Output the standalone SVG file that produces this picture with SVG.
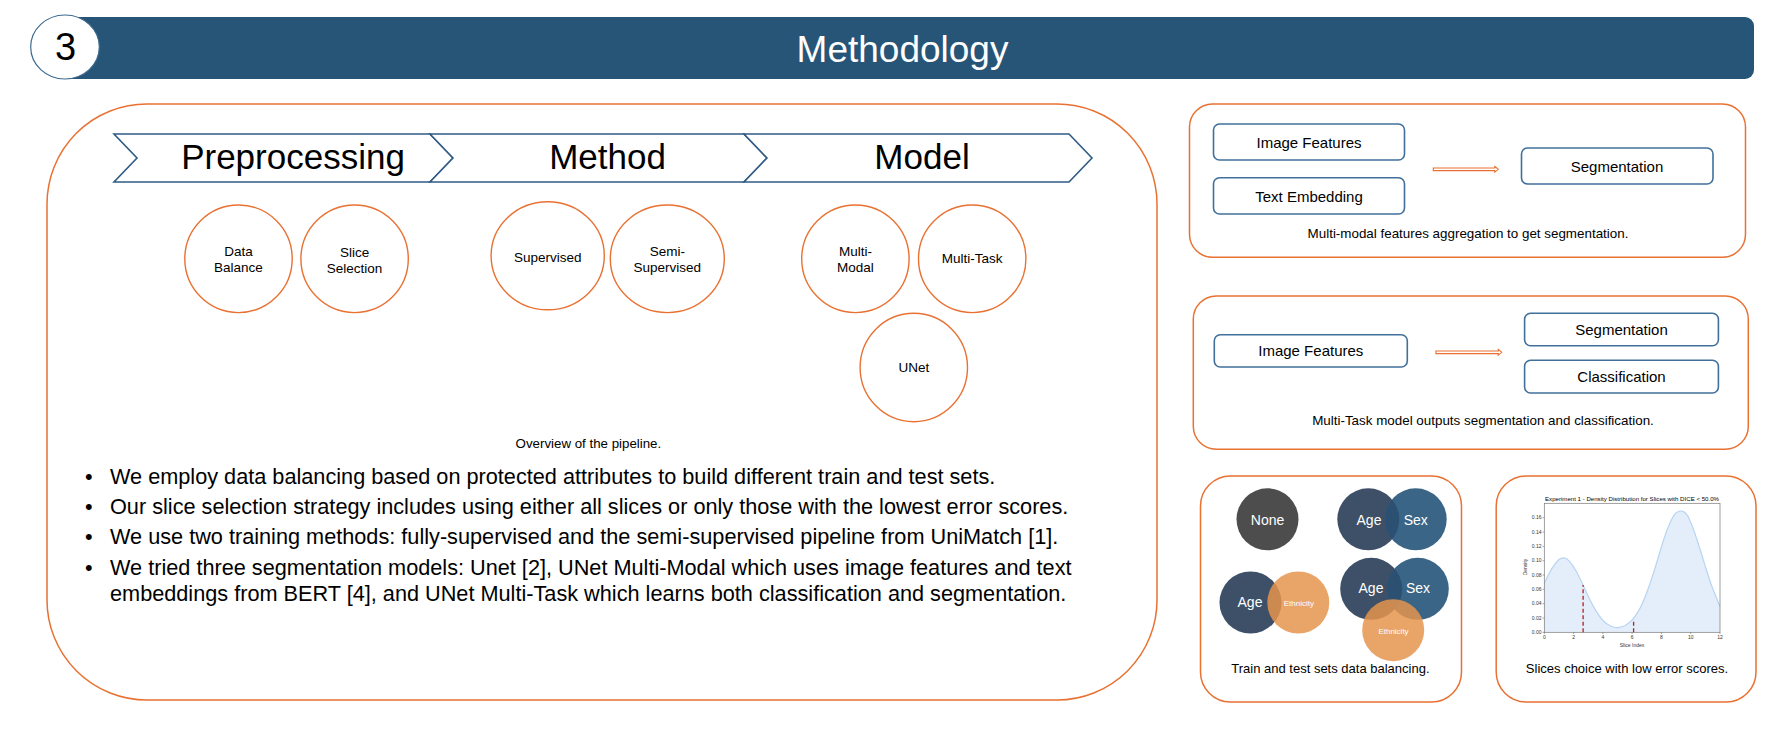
<svg xmlns="http://www.w3.org/2000/svg" width="1777" height="737" viewBox="0 0 1777 737">
<style>
text{font-family:"Liberation Sans",Arial,sans-serif;fill:#000}
.panel{fill:#fff;stroke:#e97132;stroke-width:1.5}
.chev{fill:#fff;stroke:#2f5b85;stroke-width:1.6}
.chevt{font-size:35px;text-anchor:middle}
.pc{fill:#fff;stroke:#e97132;stroke-width:1.4}
.pct{font-size:13.5px;text-anchor:middle}
.box{fill:#fff;stroke:#41709c;stroke-width:1.6}
.boxt{font-size:15px;text-anchor:middle}
.cap{font-size:13.4px;text-anchor:middle}
.bul{font-size:21.7px}
.arr{fill:#fff;stroke:#e97132;stroke-width:1.1}
.vw{fill:#fff;text-anchor:middle;font-size:14px}
.eth{fill:#fff;text-anchor:middle;font-size:8px}
.tick{font-size:5px;fill:#333}
</style>
<defs>
<clipPath id="clipAgeTR"><circle cx="1368.3" cy="519.3" r="31"/></clipPath>
<clipPath id="clipAgeBR"><circle cx="1371.2" cy="588.8" r="31"/></clipPath>
</defs>

<!-- Header -->
<g id="header">
<rect x="60" y="17" width="1694" height="62" rx="9" fill="#265578"/>
<ellipse cx="65" cy="47" rx="34.3" ry="32" fill="#fff" stroke="#3d6a8f" stroke-width="1.2"/>
<text x="65.5" y="60" font-size="38" text-anchor="middle">3</text>
<text x="902.5" y="61.7" font-size="37" text-anchor="middle" style="fill:#fff">Methodology</text>
</g>

<!-- Main panel -->
<g id="main-panel">
<rect class="panel" x="47" y="104" width="1110" height="596" rx="100"/>
</g>

<g id="chevron-preprocessing">
<path class="chev" d="M114,134 L430,134 L453,158 L430,182 L114,182 L137,158 Z"/>
<text class="chevt" x="293" y="168.5">Preprocessing</text>
</g>
<g id="chevron-method">
<path class="chev" d="M430,134 L744,134 L767,158 L744,182 L430,182 L453,158 Z"/>
<text class="chevt" x="607.5" y="168.5">Method</text>
</g>
<g id="chevron-model">
<path class="chev" d="M744,134 L1069,134 L1092,158 L1069,182 L744,182 L767,158 Z"/>
<text class="chevt" x="922" y="168.5">Model</text>
</g>

<g id="c-data-balance">
<ellipse class="pc" cx="238.5" cy="258.8" rx="53.7" ry="53.8"/>
<text class="pct" x="238.5" y="255.7">Data</text>
<text class="pct" x="238.5" y="271.7">Balance</text>
</g>
<g id="c-slice-selection">
<ellipse class="pc" cx="354.6" cy="258.8" rx="53.7" ry="53.8"/>
<text class="pct" x="354.6" y="256.7">Slice</text>
<text class="pct" x="354.6" y="272.7">Selection</text>
</g>
<g id="c-supervised">
<ellipse class="pc" cx="547.7" cy="255.8" rx="56.6" ry="54"/>
<text class="pct" x="547.7" y="261.7">Supervised</text>
</g>
<g id="c-semi-supervised">
<ellipse class="pc" cx="667.3" cy="258.8" rx="57" ry="53.8"/>
<text class="pct" x="667.3" y="255.7">Semi-</text>
<text class="pct" x="667.3" y="271.7">Supervised</text>
</g>
<g id="c-multi-modal">
<ellipse class="pc" cx="855.4" cy="258.8" rx="53.7" ry="53.8"/>
<text class="pct" x="855.4" y="255.7">Multi-</text>
<text class="pct" x="855.4" y="271.7">Modal</text>
</g>
<g id="c-multi-task">
<ellipse class="pc" cx="972.2" cy="258.8" rx="53.7" ry="53.8"/>
<text class="pct" x="972.2" y="263.3">Multi-Task</text>
</g>
<g id="c-unet">
<ellipse class="pc" cx="913.8" cy="367.5" rx="53.7" ry="54.2"/>
<text class="pct" x="913.8" y="371.7">UNet</text>
</g>

<g id="overview-caption">
<text x="588.4" y="448" font-size="13.3" text-anchor="middle">Overview of the pipeline.</text>
</g>

<g id="bullets">
<text class="bul" x="85" y="484.3">•</text>
<text class="bul" x="110" y="484.3">We employ data balancing based on protected attributes to build different train and test sets.</text>
<text class="bul" x="85" y="514.3">•</text>
<text class="bul" x="110" y="514.3">Our slice selection strategy includes using either all slices or only those with the lowest error scores.</text>
<text class="bul" x="85" y="544.3">•</text>
<text class="bul" x="110" y="544.3">We use two training methods: fully-supervised and the semi-supervised pipeline from UniMatch [1].</text>
<text class="bul" x="85" y="575">•</text>
<text class="bul" x="110" y="575">We tried three segmentation models: Unet [2], UNet Multi-Modal which uses image features and text</text>
<text class="bul" x="110" y="600.5">embeddings from BERT [4], and UNet Multi-Task which learns both classification and segmentation.</text>
</g>

<!-- Panel A: multi-modal -->
<g id="panel-multimodal">
<rect class="panel" x="1189.5" y="104" width="556" height="153.3" rx="23"/>
<text class="cap" x="1468" y="238.3">Multi-modal features aggregation to get segmentation.</text>
</g>
<g id="mm-image-features">
<rect class="box" x="1213.5" y="124" width="191" height="36" rx="6"/>
<text class="boxt" x="1309" y="147.5">Image Features</text>
</g>
<g id="mm-text-embedding">
<rect class="box" x="1213.5" y="177.7" width="191" height="36.3" rx="6"/>
<text class="boxt" x="1309" y="201.5">Text Embedding</text>
</g>
<g id="mm-segmentation">
<rect class="box" x="1521.5" y="148" width="191.5" height="36" rx="6"/>
<text class="boxt" x="1617" y="171.5">Segmentation</text>
</g>

<!-- Panel B: multi-task -->
<g id="panel-multitask">
<rect class="panel" x="1193.3" y="296" width="555" height="153.3" rx="23"/>
<text class="cap" x="1483" y="425">Multi-Task model outputs segmentation and classification.</text>
</g>
<g id="mt-image-features">
<rect class="box" x="1214.3" y="334.7" width="193" height="32.3" rx="6"/>
<text class="boxt" x="1310.8" y="356.3">Image Features</text>
</g>
<g id="mt-segmentation">
<rect class="box" x="1524.6" y="313.3" width="193.8" height="32.4" rx="6"/>
<text class="boxt" x="1621.5" y="334.8">Segmentation</text>
</g>
<g id="mt-classification">
<rect class="box" x="1524.6" y="360.3" width="193.8" height="32.7" rx="6"/>
<text class="boxt" x="1621.5" y="381.8">Classification</text>
</g>

<g id="connectors">
<path class="arr" d="M1433.3,168 H1494.8 V166.4 L1498.3,169.3 L1494.8,172.2 V170.6 H1433.3 Z"/>
<path class="arr" d="M1435.9,351 H1498.2 V349.4 L1501.7,352.3 L1498.2,355.2 V353.6 H1435.9 Z"/>
</g>

<!-- Panel C: data balancing -->
<g id="panel-balancing">
<rect class="panel" x="1200.5" y="476" width="261" height="226" rx="30"/>
<text x="1330.4" y="673.3" font-size="13" text-anchor="middle">Train and test sets data balancing.</text>
</g>
<g id="v-none">
<circle cx="1267.5" cy="519.3" r="31" fill="#4d4d4d"/>
<text class="vw" x="1267.5" y="525">None</text>
</g>
<g id="v-age-sex">
<circle cx="1368.3" cy="519.3" r="31" fill="#3d5068"/>
<circle cx="1415.7" cy="519.3" r="31" fill="#3a6586"/>
<circle cx="1415.7" cy="519.3" r="31" fill="#2c5072" clip-path="url(#clipAgeTR)"/>
<text class="vw" x="1369" y="525">Age</text>
<text class="vw" x="1415.8" y="525">Sex</text>
</g>
<g id="v-age-ethnicity">
<circle cx="1250.5" cy="602.5" r="31" fill="#3d5068"/>
<circle cx="1298.3" cy="602.5" r="31" fill="#e5944d" fill-opacity="0.85"/>
<text class="vw" x="1250" y="607.3">Age</text>
<text class="eth" x="1298.8" y="605.7">Ethnicity</text>
</g>
<g id="v-age-sex-ethnicity">
<circle cx="1371.2" cy="588.8" r="31" fill="#3d5068"/>
<circle cx="1417.8" cy="588.8" r="31" fill="#3a6586"/>
<circle cx="1417.8" cy="588.8" r="31" fill="#2c5072" clip-path="url(#clipAgeBR)"/>
<circle cx="1393.2" cy="630.2" r="31" fill="#e5944d" fill-opacity="0.85"/>
<text class="vw" x="1371" y="593.3">Age</text>
<text class="vw" x="1418" y="593.3">Sex</text>
<text class="eth" x="1393.5" y="634">Ethnicity</text>
</g>

<!-- Panel D: slices plot -->
<g id="panel-slices">
<rect class="panel" x="1496.2" y="476" width="259.8" height="226" rx="30"/>
<text x="1627" y="673.3" font-size="13" text-anchor="middle">Slices choice with low error scores.</text>
</g>
<g id="plot">
<text x="1632" y="500.5" font-size="5.8" text-anchor="middle" textLength="174" lengthAdjust="spacingAndGlyphs" fill="#333">Experiment 1 - Density Distribution for Slices with DICE &lt; 50.0%</text>
<path d="M1544.3,632.3 L1544.3,583.6 C1548,575 1552,566 1558.9,559.5 C1562,557.5 1564,557.3 1566.3,558.6 C1570,561 1575,568 1580.9,580.5 C1585,589 1590,601 1595.5,610.1 C1600,618 1606,624 1610.2,625.7 C1614,627.6 1616,628 1617.5,627.6 C1621,627 1623,626.5 1624.8,625.8 C1628,624 1630,622 1632.1,620 C1636,616 1638,612 1639.5,609.3 C1644,601 1649,587 1654.1,571.2 C1658,559 1664,536 1668.7,526 C1672,518 1674,514 1676.1,512.9 C1679,510.5 1681,510.5 1683.4,511.6 C1687,513.5 1689,517 1690.7,522.6 C1694,530 1696,537 1698,542.7 C1702,555 1704,562 1705.3,566.5 C1709,578 1711,584 1712.7,588.8 C1716,596 1718,602 1720,606.5 L1720,632.3 Z" fill="#e4eefa" stroke="none"/>
<path d="M1544.3,583.6 C1548,575 1552,566 1558.9,559.5 C1562,557.5 1564,557.3 1566.3,558.6 C1570,561 1575,568 1580.9,580.5 C1585,589 1590,601 1595.5,610.1 C1600,618 1606,624 1610.2,625.7 C1614,627.6 1616,628 1617.5,627.6 C1621,627 1623,626.5 1624.8,625.8 C1628,624 1630,622 1632.1,620 C1636,616 1638,612 1639.5,609.3 C1644,601 1649,587 1654.1,571.2 C1658,559 1664,536 1668.7,526 C1672,518 1674,514 1676.1,512.9 C1679,510.5 1681,510.5 1683.4,511.6 C1687,513.5 1689,517 1690.7,522.6 C1694,530 1696,537 1698,542.7 C1702,555 1704,562 1705.3,566.5 C1709,578 1711,584 1712.7,588.8 C1716,596 1718,602 1720,606.5" fill="none" stroke="#b9d4f2" stroke-width="1.2"/>
<rect x="1544.3" y="503.3" width="175.7" height="129" fill="none" stroke="#777" stroke-width="0.7"/>
<line x1="1583.1" y1="632.3" x2="1583.1" y2="585" stroke="#b22222" stroke-width="1.3" stroke-dasharray="4,2.5"/>
<line x1="1633.6" y1="632.3" x2="1633.6" y2="620.8" stroke="#b22222" stroke-width="1.3" stroke-dasharray="4,2.5"/>
<g stroke="#555" stroke-width="0.5">
<line x1="1542.5" y1="632.3" x2="1544.3" y2="632.3"/><line x1="1542.5" y1="618" x2="1544.3" y2="618"/><line x1="1542.5" y1="603.7" x2="1544.3" y2="603.7"/><line x1="1542.5" y1="589.3" x2="1544.3" y2="589.3"/><line x1="1542.5" y1="575" x2="1544.3" y2="575"/><line x1="1542.5" y1="560.7" x2="1544.3" y2="560.7"/><line x1="1542.5" y1="546.4" x2="1544.3" y2="546.4"/><line x1="1542.5" y1="532.1" x2="1544.3" y2="532.1"/><line x1="1542.5" y1="517.7" x2="1544.3" y2="517.7"/>
<line x1="1544.3" y1="632.3" x2="1544.3" y2="634"/><line x1="1573.6" y1="632.3" x2="1573.6" y2="634"/><line x1="1602.9" y1="632.3" x2="1602.9" y2="634"/><line x1="1632.1" y1="632.3" x2="1632.1" y2="634"/><line x1="1661.4" y1="632.3" x2="1661.4" y2="634"/><line x1="1690.7" y1="632.3" x2="1690.7" y2="634"/><line x1="1720" y1="632.3" x2="1720" y2="634"/>
</g>
<g text-anchor="end">
<text class="tick" x="1541.5" y="634">0.00</text><text class="tick" x="1541.5" y="619.7">0.02</text><text class="tick" x="1541.5" y="605.4">0.04</text><text class="tick" x="1541.5" y="591">0.06</text><text class="tick" x="1541.5" y="576.7">0.08</text><text class="tick" x="1541.5" y="562.4">0.10</text><text class="tick" x="1541.5" y="548.1">0.12</text><text class="tick" x="1541.5" y="533.8">0.14</text><text class="tick" x="1541.5" y="519.4">0.16</text>
</g>
<g text-anchor="middle">
<text class="tick" x="1544.3" y="639">0</text><text class="tick" x="1573.6" y="639">2</text><text class="tick" x="1602.9" y="639">4</text><text class="tick" x="1632.1" y="639">6</text><text class="tick" x="1661.4" y="639">8</text><text class="tick" x="1690.7" y="639">10</text><text class="tick" x="1720" y="639">12</text>
<text class="tick" x="1632" y="646.5">Slice Index</text>
<text class="tick" x="0" y="0" transform="translate(1527,567) rotate(-90)">Density</text>
</g>
</g>
</svg>
